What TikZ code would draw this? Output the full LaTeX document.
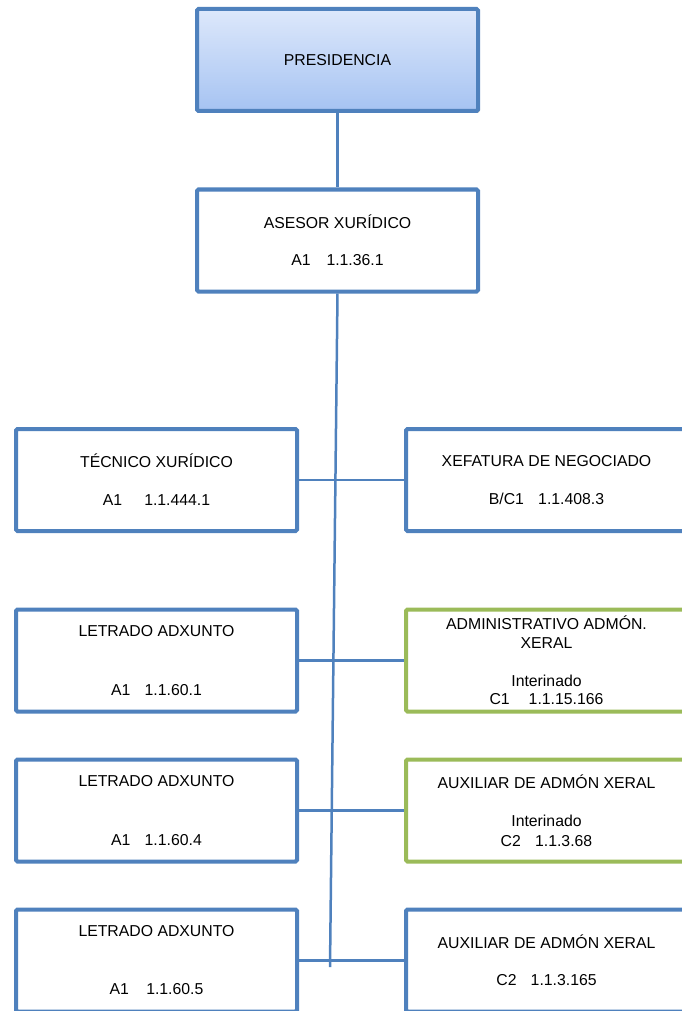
\documentclass[tikz,border=0pt]{standalone}
\usepackage{fontspec}
\setmainfont{Liberation Sans}
\usetikzlibrary{shadows}
\definecolor{obl}{HTML}{4F81BD}
\definecolor{ogr}{HTML}{9BBB59}
\definecolor{ptop}{HTML}{DDE8FB}
\definecolor{pbot}{HTML}{A6C3F2}
\begin{document}
\begin{tikzpicture}[x=1pt,y=-1pt,
  box/.style={draw=obl, line width=4pt, rounded corners=1.5pt,
    minimum width=281pt, minimum height=102pt, align=center,
    font=\fontsize{15.8}{19}\selectfont, inner sep=0pt, fill=white},
  gbox/.style={box, draw=ogr},
  conn/.style={draw=obl, line width=2.5pt}]
\useasboundingbox (0,0) rectangle (681,1011);
% top
\node[box, top color=ptop, bottom color=pbot,
  drop shadow={shadow xshift=1.5pt, shadow yshift=-2pt, opacity=.35}] (pres) at (337.5,60) {PRESIDENCIA};
\node[box] (ase) at (337.5,240.5) {ASESOR XURÍDICO\\[18pt]A1\hspace{1em}1.1.36.1};
% row 1
\node[box] (tec) at (156.5,480) {TÉCNICO XURÍDICO\\[19pt]A1\hspace{1.4em}1.1.444.1};
\node[box] (xef) at (546.5,480) {XEFATURA DE NEGOCIADO\\[19pt]B/C1\hspace{0.9em}1.1.408.3};
% row 2
\node[box] (let1) at (156.5,660.5) {LETRADO ADXUNTO\\[40pt]A1\hspace{0.9em}1.1.60.1};
\node[gbox] (adm) at (546.5,660.5) {ADMINISTRATIVO ADMÓN.\\XERAL\\[19pt]Interinado\\[-1pt]C1\hspace{1.2em}1.1.15.166};
% row 3
\node[box] (let2) at (156.5,810.5) {LETRADO ADXUNTO\\[40pt]A1\hspace{0.9em}1.1.60.4};
\node[gbox] (aux1) at (546.5,810.5) {AUXILIAR DE ADMÓN XERAL\\[19pt]Interinado\\[1pt]C2\hspace{0.9em}1.1.3.68};
% row 4
\node[box] (let3) at (156.5,960.5) {LETRADO ADXUNTO\\[39pt]A1\hspace{1.1em}1.1.60.5};
\node[box] (aux2) at (546.5,960.5) {AUXILIAR DE ADMÓN XERAL\\[18pt]C2\hspace{0.9em}1.1.3.165};
% connectors
\coordinate (vend) at (330,967);
\draw[conn] (pres.south) -- (ase.north);
\draw[conn] (ase.south) -- (vend);
\draw[conn] (tec.east) -- (xef.west);
\draw[conn] (let1.east) -- (adm.west);
\draw[conn] (let2.east) -- (aux1.west);
\draw[conn] (let3.east) -- (aux2.west);
\end{tikzpicture}
\end{document}
